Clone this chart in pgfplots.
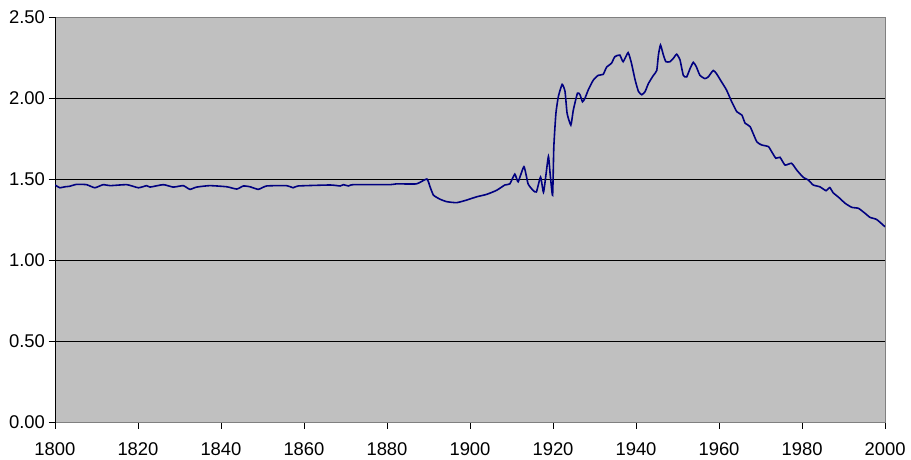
\documentclass[border=0pt]{standalone}
\usepackage{pgfplots}
\pgfplotsset{compat=1.18}
\usepackage{fontspec}
\setmainfont{Liberation Sans}
\definecolor{plotbg}{HTML}{C0C0C0}
\definecolor{navy}{HTML}{000080}
\begin{document}
\begin{tikzpicture}
\begin{axis}[
  scale only axis, width=830bp, height=405bp,
  xmin=1800, xmax=2000, ymin=0, ymax=2.5,
  xtick={1800,1820,...,2000}, ytick={0,0.5,...,2.5},
  axis background/.style={fill=plotbg},
  axis line style={draw=gray},
  ymajorgrids, major grid style={black, line width=0.8pt},
  extra x ticks={1800}, extra x tick labels={},
  extra x tick style={grid=major, major grid style={black, line width=1pt}},
  tick align=outside, major tick length=6.5bp,
  tick style={black, line width=0.8pt},
  xtick pos=bottom, ytick pos=left,
  /pgf/number format/assume math mode=true,
  ticklabel style={font=\fontsize{18.5}{22}\selectfont},
  xticklabel style={/pgf/number format/1000 sep={}, yshift=-10.5bp},
  yticklabel style={/pgf/number format/.cd, fixed, fixed zerofill, precision=2},
]
\coordinate (O) at (rel axis cs:0,0);
\addplot[navy, line width=1.6pt, smooth, tension=0.3] coordinates {
(1800,1.463) (1801.2,1.446) (1802.4,1.452) (1803.5,1.455) (1805.2,1.467) (1807.6,1.465)
(1809.6,1.446) (1811.6,1.465) (1813.3,1.459) (1817.3,1.465) (1820.1,1.446) (1822.1,1.459)
(1822.9,1.450) (1826.1,1.465) (1828.5,1.450) (1830.9,1.459) (1832.5,1.436) (1834.1,1.450)
(1837.3,1.459) (1841.4,1.452) (1843.8,1.438) (1845.4,1.457) (1847,1.452) (1849,1.436)
(1851,1.457) (1855.8,1.459) (1857.4,1.446) (1858.6,1.457) (1866.3,1.463) (1868.7,1.457)
(1869.5,1.465) (1870.7,1.457) (1871.9,1.465) (1880.7,1.465) (1882.3,1.470) (1887.1,1.470)
(1889.6,1.500) (1890.4,1.450) (1891.2,1.400) (1892.8,1.375) (1894.4,1.360) (1896.8,1.354)
(1899.2,1.370) (1901.6,1.390) (1904.0,1.405) (1906.4,1.430) (1908.4,1.463) (1909.6,1.470)
(1910.8,1.530) (1911.6,1.483) (1913.0,1.576) (1914.0,1.470) (1915.2,1.430) (1916.0,1.420)
(1917.0,1.512) (1917.7,1.418) (1918.3,1.525) (1918.9,1.640) (1919.3,1.535) (1919.9,1.400)
(1920.2,1.700) (1920.7,1.905) (1921.3,2.010) (1922.2,2.084) (1922.9,2.040) (1923.4,1.905)
(1924.3,1.833) (1924.9,1.926) (1925.9,2.030) (1926.5,2.020) (1927.1,1.977) (1927.7,1.998)
(1928.5,2.050) (1929.7,2.110) (1930.9,2.140) (1932.1,2.146) (1932.9,2.190) (1934.1,2.215)
(1934.9,2.255) (1936.1,2.265) (1936.9,2.224) (1938.1,2.280) (1938.9,2.215) (1939.8,2.110)
(1940.6,2.040) (1941.4,2.020) (1942.2,2.040) (1943.0,2.090) (1944.2,2.140) (1945.0,2.170)
(1945.4,2.265) (1945.9,2.327) (1946.6,2.265) (1947.2,2.224) (1948.2,2.224) (1949.0,2.245)
(1949.8,2.270) (1950.6,2.235) (1951.4,2.140) (1952.2,2.130) (1953.0,2.180) (1953.8,2.220)
(1954.5,2.195) (1955.4,2.140) (1956.6,2.120) (1957.4,2.130) (1958.6,2.170) (1959.4,2.150)
(1960.6,2.100) (1961.8,2.050) (1963.0,1.980) (1964.3,1.915) (1965.5,1.895) (1966.3,1.844)
(1967.5,1.823) (1969.1,1.730) (1970.3,1.710) (1971.9,1.700) (1972.7,1.668) (1973.7,1.628)
(1974.7,1.634) (1975.9,1.586) (1977.5,1.597) (1978.7,1.556) (1980.3,1.510) (1981.5,1.494)
(1982.7,1.463) (1984.3,1.452) (1985.8,1.428) (1986.7,1.447) (1987.5,1.415) (1988.7,1.390)
(1990.4,1.350) (1992.0,1.325) (1993.6,1.319) (1995.2,1.288) (1996.4,1.263) (1998.0,1.250)
(2000.0,1.205)
};
\end{axis}
\pgfresetboundingbox
\path (O) ++(-55bp,-38bp) rectangle ++(911bp,460bp);
\end{tikzpicture}
\end{document}
